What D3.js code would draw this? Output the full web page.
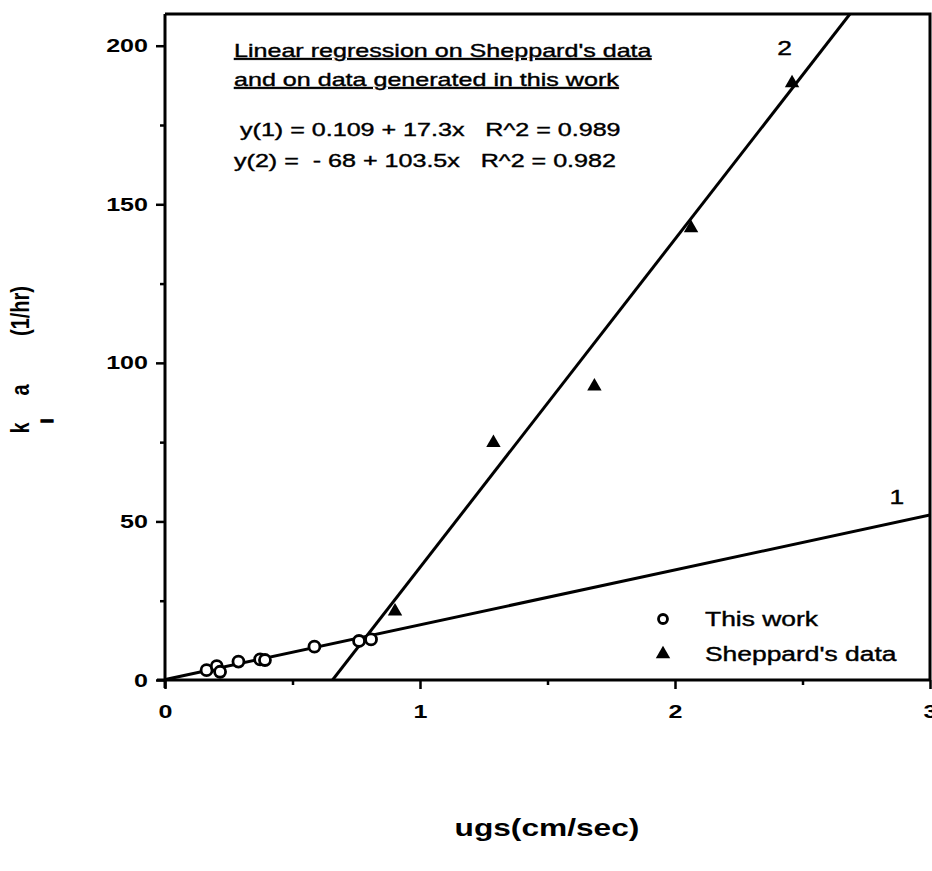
<!DOCTYPE html>
<html>
<head>
<meta charset="utf-8">
<script src="https://cdn.jsdelivr.net/npm/d3@7"></script>
<style>
  html, body { margin: 0; padding: 0; background: #fff; }
  svg { display: block; }
  text { font-family: "Liberation Sans", Arial, Helvetica, sans-serif; fill: #000; }
  .heavy { stroke: #000; stroke-width: 0.4px; }
</style>
</head>
<body>
<svg id="chart" width="932" height="871"></svg>
<script>
// Measurements: gas superficial velocity (cm/sec) vs kla (1/hr)
const thisWorkX = [0.163, 0.203, 0.216, 0.288, 0.373, 0.392, 0.586, 0.761, 0.808];
const thisWorkY = [3.1, 4.4, 2.6, 5.8, 6.5, 6.3, 10.5, 12.3, 12.8];
const sheppardX = [0.902, 1.288, 1.684, 2.063, 2.459];
const sheppardY = [22.0, 75.1, 92.9, 142.8, 188.5];

// Regression fits: y = a + b x
const fitNames = ["1", "2"];
const fitIntercepts = [0.109, -68];
const fitSlopes = [17.3, 103.5];

const xTicks = [0, 1, 2, 3];
const xMinorTicks = [0.5, 1.5, 2.5];
const yTicks = [0, 50, 100, 150, 200];
const yMinorTicks = [25, 75, 125, 175];

const titleLines = ["Linear regression on Sheppard's data", "and on data generated in this work"];
const eqLines = ["y(1) = 0.109 + 17.3x   R^2 = 0.989", "y(2) =  - 68 + 103.5x   R^2 = 0.982"];
const legendLabels = ["This work", "Sheppard's data"];

const svg = d3.select("#chart");
const plotL = 165, plotR = 930, plotT = 14, plotB = 680;
const widen = 1.32; // horizontal widening of lettering

const x = d3.scaleLinear().domain([0, 3]).range([plotL, plotR]);
const y = d3.scaleLinear().domain([0, 210]).range([plotB, plotT]);

// Frame (top and right edges)
svg.append("path")
  .attr("d", `M${plotL},${plotT}H${plotR}V${plotB}`)
  .attr("fill", "none").attr("stroke", "#000").attr("stroke-width", 3);

// Axes
const xAxis = svg.append("g").attr("transform", `translate(0,${plotB})`)
  .call(d3.axisBottom(x).tickValues(xTicks).tickFormat(d3.format("d")).tickSize(9).tickPadding(16));
svg.append("g").attr("transform", `translate(0,${plotB})`)
  .call(d3.axisBottom(x).tickValues(xMinorTicks).tickFormat("").tickSize(5))
  .call(g => g.select(".domain").remove());
const yAxis = svg.append("g").attr("transform", `translate(${plotL},0)`)
  .call(d3.axisLeft(y).tickValues(yTicks).tickFormat(d3.format("d")).tickSize(9).tickPadding(8));
svg.append("g").attr("transform", `translate(${plotL},0)`)
  .call(d3.axisLeft(y).tickValues(yMinorTicks).tickFormat("").tickSize(5))
  .call(g => g.select(".domain").remove());

svg.selectAll(".domain").attr("stroke-width", 3);
xAxis.select(".domain").attr("d", `M${plotL - 8},0H${plotR}`);
yAxis.select(".domain").attr("d", `M0,${plotT}V${plotB + 8}`);
svg.selectAll(".tick line").attr("stroke-width", 2.5);
svg.selectAll(".tick text").attr("font-family", null)
  .style("font-size", "19px").style("font-weight", "bold");

// Clip region for regression lines
svg.append("clipPath").attr("id", "plot-clip")
  .append("rect").attr("x", plotL).attr("y", plotT).attr("width", plotR - plotL).attr("height", plotB - plotT);

const fits = fitNames.map((n, i) => {
  const a = fitIntercepts[i], b = fitSlopes[i];
  const x0 = Math.max(0, -a / b);
  const x1 = Math.min(3, (210 - a) / b);
  return [[x0, a + b * x0], [x1, a + b * x1]];
});
const line = d3.line().x(d => x(d[0])).y(d => y(d[1]));
svg.append("g").attr("clip-path", "url(#plot-clip)")
  .selectAll("path").data(fits).join("path")
  .attr("d", line).attr("fill", "none").attr("stroke", "#000").attr("stroke-width", 3);

// Line labels
svg.append("text").attr("class", "wide heavy").attr("x", x(2.43)).attr("y", y(197)).attr("text-anchor", "middle")
  .style("font-size", "20px").text(fitNames[1]);
svg.append("text").attr("class", "wide heavy").attr("x", x(2.87)).attr("y", y(55.5)).attr("text-anchor", "middle")
  .style("font-size", "20px").text(fitNames[0]);

// Markers
const tri = d3.symbol().type(d3.symbolTriangle).size(90);
svg.append("g").selectAll("circle").data(thisWorkX).join("circle")
  .attr("cx", d => x(d)).attr("cy", (d, i) => y(thisWorkY[i])).attr("r", 5.5)
  .attr("fill", "#fff").attr("stroke", "#000").attr("stroke-width", 2.8);
svg.append("g").selectAll("path").data(sheppardX).join("path")
  .attr("d", tri).attr("transform", (d, i) => `translate(${x(d)},${y(sheppardY[i]) + 1})`)
  .attr("fill", "#000");

// Annotation block
const ann = svg.append("g").style("font-size", "19px");
titleLines.forEach((t, i) => {
  ann.append("text").attr("class", "wide heavy").attr("x", 234).attr("y", 57 + i * 29)
    .attr("text-decoration", "underline").text(t);
});
eqLines.forEach((t, i) => {
  ann.append("text").attr("class", "wide heavy").attr("x", i === 0 ? 240 : 234).attr("y", 136 + i * 31)
    .attr("xml:space", "preserve").style("white-space", "pre").text(t);
});

// Legend
const leg = svg.append("g");
leg.append("circle").attr("cx", 663).attr("cy", 619).attr("r", 4.5)
  .attr("fill", "#fff").attr("stroke", "#000").attr("stroke-width", 2.8);
leg.append("path").attr("d", tri).attr("transform", "translate(663,654)").attr("fill", "#000");
legendLabels.forEach((t, i) => {
  leg.append("text").attr("class", "wide heavy").attr("x", 705).attr("y", 626 + i * 35)
    .style("font-size", "20px").text(t);
});

// Axis titles
svg.append("text").attr("class", "wide").attr("x", 547).attr("y", 836).attr("text-anchor", "middle")
  .style("font-size", "24px").style("font-weight", "bold").text("ugs(cm/sec)");

// Vertical title: k with subscript l, then a, then the unit
const yTitle = svg.append("g").style("font-size", "20px").style("font-weight", "bold");
const vt = (txt, cx, cy, size, sx) => yTitle.append("text")
  .attr("transform", `translate(${cx},${cy}) scale(${sx || widen},1) rotate(-90)`)
  .attr("text-anchor", "middle").attr("dy", "0.35em")
  .style("font-size", size ? size + "px" : null).text(txt);
vt("k", 20, 428);
vt("l", 47, 421, 17, 1).attr("stroke", "#000").attr("stroke-width", 1.2);
vt("a", 20, 390);
vt("(1/hr)", 20, 311);

// Widen horizontal lettering
svg.selectAll("text.wide, .tick text").each(function () {
  const w = this.getComputedTextLength();
  d3.select(this).attr("textLength", w * widen).attr("lengthAdjust", "spacingAndGlyphs");
});
</script>
</body>
</html>
